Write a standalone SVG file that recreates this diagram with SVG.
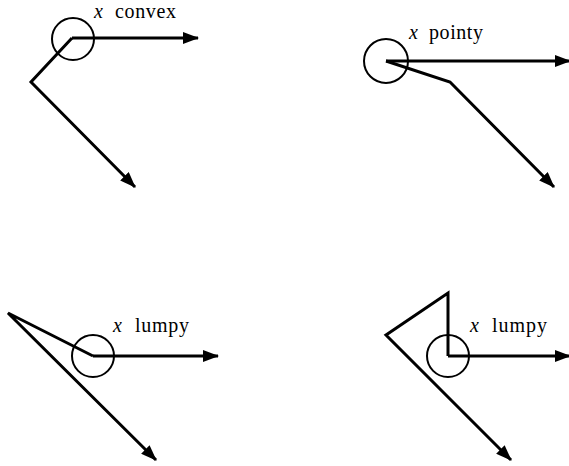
<svg xmlns="http://www.w3.org/2000/svg" width="569" height="466" viewBox="0 0 569 466">
<style>
.c{fill:none;stroke:#000;stroke-width:2}
.l{fill:none;stroke:#000;stroke-width:3;stroke-linejoin:miter;stroke-linecap:butt}
.t{font-family:"Liberation Serif","Times New Roman",serif;font-size:20px;fill:#000}
.i{font-style:italic}
</style>
<defs>
<marker id="ah" markerUnits="userSpaceOnUse" markerWidth="16" markerHeight="12" refX="15" refY="6" orient="auto">
<path d="M0,0 L16,6 L0,12 Z" fill="#000"/>
</marker>
</defs>
<rect width="569" height="466" fill="#fff"/>
<g id="convex">
<circle class="c" cx="73" cy="39" r="21"/>
<text class="t" y="18"><tspan class="i" x="94">x</tspan><tspan x="115" textLength="61">convex</tspan></text>
</g>
<g id="pointy">
<circle class="c" cx="386" cy="61" r="22"/>
<text class="t" y="39"><tspan class="i" x="409">x</tspan><tspan x="429" textLength="54">pointy</tspan></text>
</g>
<g id="lumpy1">
<circle class="c" cx="93" cy="356" r="21"/>
<text class="t" y="332"><tspan class="i" x="113">x</tspan><tspan x="135" textLength="54">lumpy</tspan></text>
</g>
<g id="lumpy2">
<circle class="c" cx="448" cy="356" r="21"/>
<text class="t" y="332"><tspan class="i" x="470">x</tspan><tspan x="492" textLength="55">lumpy</tspan></text>
</g>
<g id="connectors">
<path class="l" d="M72,38 H198" marker-end="url(#ah)"/>
<path class="l" d="M72,38 L31,82 L135,187" marker-end="url(#ah)"/>
<path class="l" d="M386,61 H570" marker-end="url(#ah)"/>
<path class="l" d="M386,61 L450,82 L554,187" marker-end="url(#ah)"/>
<path class="l" d="M93,356 H218" marker-end="url(#ah)"/>
<path class="l" d="M93,356 L8,313 L156,460" marker-end="url(#ah)"/>
<path class="l" d="M448,356 H570" marker-end="url(#ah)"/>
<path class="l" d="M448,356 V293 L386,335 L511,460" marker-end="url(#ah)"/>
</g>
</svg>
